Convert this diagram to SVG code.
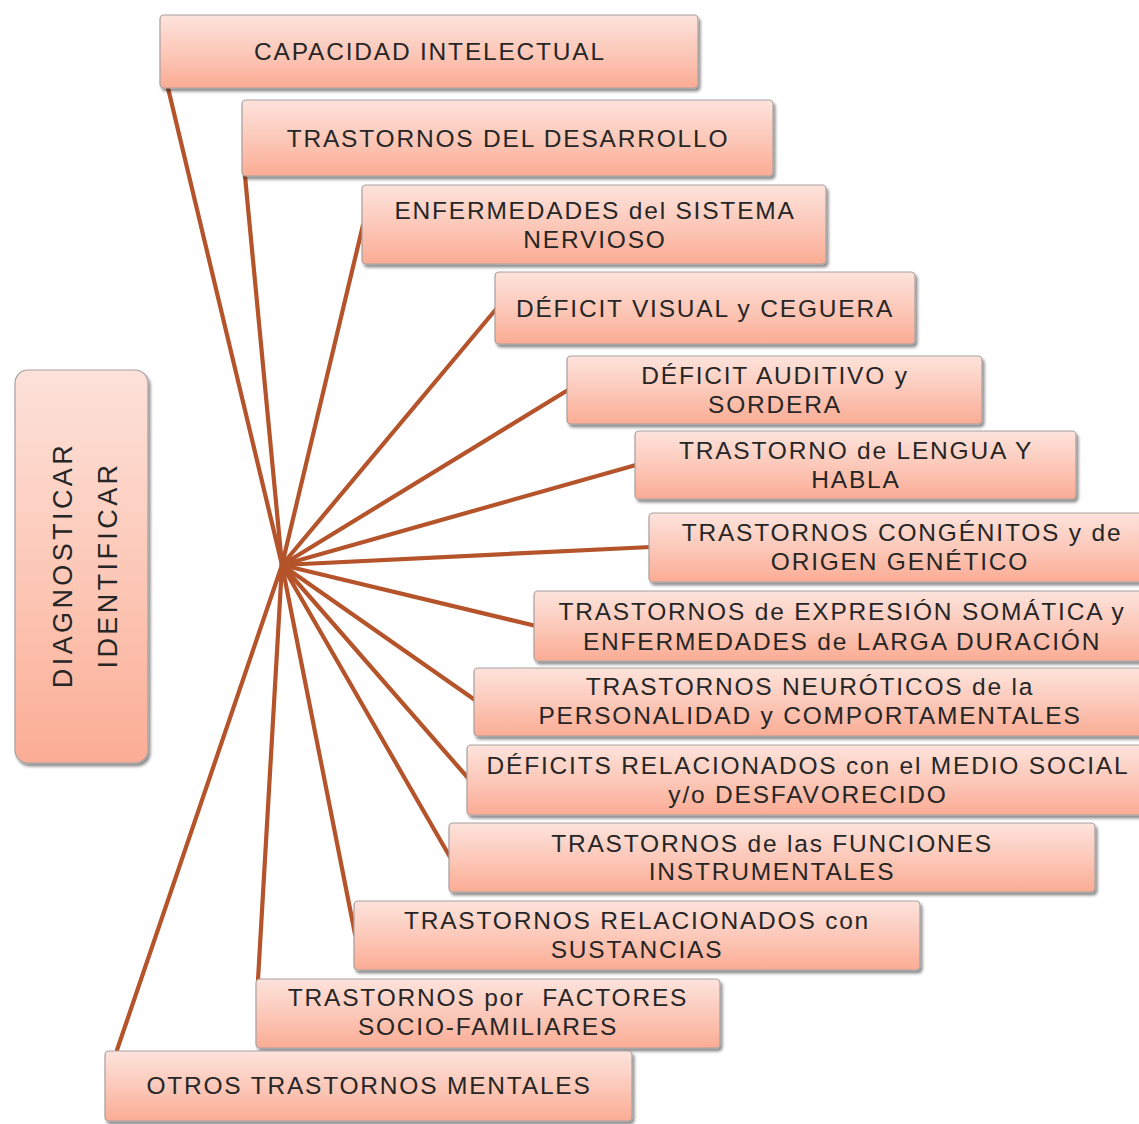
<svg xmlns="http://www.w3.org/2000/svg" width="1139" height="1124" viewBox="0 0 1139 1124">
  <style>
    .box { fill: url(#boxFill); stroke: #a8a0a0; stroke-width: 1.2; filter: url(#shadow); }
    .lbl { font-family: "Liberation Sans", "DejaVu Sans", sans-serif; font-size: 24.5px; fill: #262626; text-anchor: middle; letter-spacing: 1.8px; }
    .side { font-size: 27px; letter-spacing: 3.4px; }
    .conn { stroke: #b5532a; stroke-width: 4.2; stroke-linecap: round; fill: none; }
  </style>
  <defs>
    <linearGradient id="boxFill" x1="0" y1="0" x2="0" y2="1">
      <stop offset="0" stop-color="#fde3dc"/>
      <stop offset="0.55" stop-color="#fcc6b6"/>
      <stop offset="1" stop-color="#fbac94"/>
    </linearGradient>
    <linearGradient id="sideFill" x1="0" y1="0" x2="0" y2="1">
      <stop offset="0" stop-color="#fde2da"/>
      <stop offset="0.6" stop-color="#fcc4b2"/>
      <stop offset="1" stop-color="#fbad95"/>
    </linearGradient>
    <filter id="shadow" x="-5%" y="-10%" width="110%" height="130%">
      <feGaussianBlur in="SourceAlpha" stdDeviation="1.5"/>
      <feOffset dx="1.5" dy="2.5" result="b"/>
      <feComponentTransfer><feFuncA type="linear" slope="0.45"/></feComponentTransfer>
      <feMerge><feMergeNode/><feMergeNode in="SourceGraphic"/></feMerge>
    </filter>
  </defs>

  <!-- spokes from the central hub to each category -->
  <g id="connectors">
    <line class="conn" x1="282" y1="565" x2="168" y2="88"/>
    <line class="conn" x1="282" y1="565" x2="245" y2="176"/>
    <line class="conn" x1="282" y1="565" x2="363" y2="225"/>
    <line class="conn" x1="282" y1="565" x2="497" y2="308"/>
    <line class="conn" x1="282" y1="565" x2="568" y2="390"/>
    <line class="conn" x1="282" y1="565" x2="636" y2="465"/>
    <line class="conn" x1="282" y1="565" x2="651" y2="547"/>
    <line class="conn" x1="282" y1="565" x2="536" y2="626"/>
    <line class="conn" x1="282" y1="565" x2="475" y2="700"/>
    <line class="conn" x1="282" y1="565" x2="468" y2="778"/>
    <line class="conn" x1="282" y1="565" x2="450" y2="857"/>
    <line class="conn" x1="282" y1="565" x2="355" y2="934"/>
    <line class="conn" x1="282" y1="565" x2="258" y2="980"/>
    <line class="conn" x1="282" y1="565" x2="117" y2="1050"/>
  </g>

  <g id="root">
    <rect x="15" y="370" width="133" height="393" rx="13" fill="url(#sideFill)" stroke="#a8a0a0" stroke-width="1.2" filter="url(#shadow)"/>
    <text class="lbl side" transform="translate(72 565) rotate(-90)">DIAGNOSTICAR</text>
    <text class="lbl side" transform="translate(117 565) rotate(-90)">IDENTIFICAR</text>
  </g>

  <g id="n1">
    <rect class="box" x="160" y="15" width="538" height="73" rx="4"/>
    <text class="lbl" x="430" y="60">CAPACIDAD INTELECTUAL</text>
  </g>
  <g id="n2">
    <rect class="box" x="242" y="100" width="531" height="76" rx="4"/>
    <text class="lbl" x="508" y="147">TRASTORNOS DEL DESARROLLO</text>
  </g>
  <g id="n3">
    <rect class="box" x="362" y="185" width="464" height="79" rx="4"/>
    <text class="lbl" x="595" y="219">ENFERMEDADES del SISTEMA</text>
    <text class="lbl" x="595" y="248">NERVIOSO</text>
  </g>
  <g id="n4">
    <rect class="box" x="495" y="272" width="420" height="72" rx="4"/>
    <text class="lbl" x="705" y="317">DÉFICIT VISUAL y CEGUERA</text>
  </g>
  <g id="n5">
    <rect class="box" x="567" y="356" width="415" height="68" rx="4"/>
    <text class="lbl" x="775" y="384">DÉFICIT AUDITIVO y</text>
    <text class="lbl" x="775" y="413">SORDERA</text>
  </g>
  <g id="n6">
    <rect class="box" x="635" y="431" width="441" height="68" rx="4"/>
    <text class="lbl" x="856" y="459">TRASTORNO de LENGUA Y</text>
    <text class="lbl" x="856" y="488">HABLA</text>
  </g>
  <g id="n7">
    <rect class="box" x="649" y="513" width="500" height="69" rx="4"/>
    <text class="lbl" x="902" y="541">TRASTORNOS CONGÉNITOS y de</text>
    <text class="lbl" x="900" y="570">ORIGEN GENÉTICO</text>
  </g>
  <g id="n8">
    <rect class="box" x="534" y="591" width="615" height="70" rx="4"/>
    <text class="lbl" x="842" y="620">TRASTORNOS de EXPRESIÓN SOMÁTICA y</text>
    <text class="lbl" x="842" y="650">ENFERMEDADES de LARGA DURACIÓN</text>
  </g>
  <g id="n9">
    <rect class="box" x="474" y="668" width="675" height="68" rx="4"/>
    <text class="lbl" x="810" y="695">TRASTORNOS NEURÓTICOS de la</text>
    <text class="lbl" x="810" y="724">PERSONALIDAD y COMPORTAMENTALES</text>
  </g>
  <g id="n10">
    <rect class="box" x="467" y="745" width="682" height="70" rx="4"/>
    <text class="lbl" x="808" y="774">DÉFICITS RELACIONADOS con el MEDIO SOCIAL</text>
    <text class="lbl" x="808" y="803">y/o DESFAVORECIDO</text>
  </g>
  <g id="n11">
    <rect class="box" x="449" y="823" width="646" height="69" rx="4"/>
    <text class="lbl" x="772" y="852">TRASTORNOS de las FUNCIONES</text>
    <text class="lbl" x="772" y="880">INSTRUMENTALES</text>
  </g>
  <g id="n12">
    <rect class="box" x="354" y="901" width="566" height="69" rx="4"/>
    <text class="lbl" x="637" y="929">TRASTORNOS RELACIONADOS con</text>
    <text class="lbl" x="637" y="958">SUSTANCIAS</text>
  </g>
  <g id="n13">
    <rect class="box" x="256" y="979" width="464" height="69" rx="4"/>
    <text class="lbl" x="488" y="1006" xml:space="preserve">TRASTORNOS por  FACTORES</text>
    <text class="lbl" x="488" y="1035">SOCIO-FAMILIARES</text>
  </g>
  <g id="n14">
    <rect class="box" x="105" y="1051" width="527" height="70" rx="4"/>
    <text class="lbl" x="369" y="1094">OTROS TRASTORNOS MENTALES</text>
  </g>
</svg>
